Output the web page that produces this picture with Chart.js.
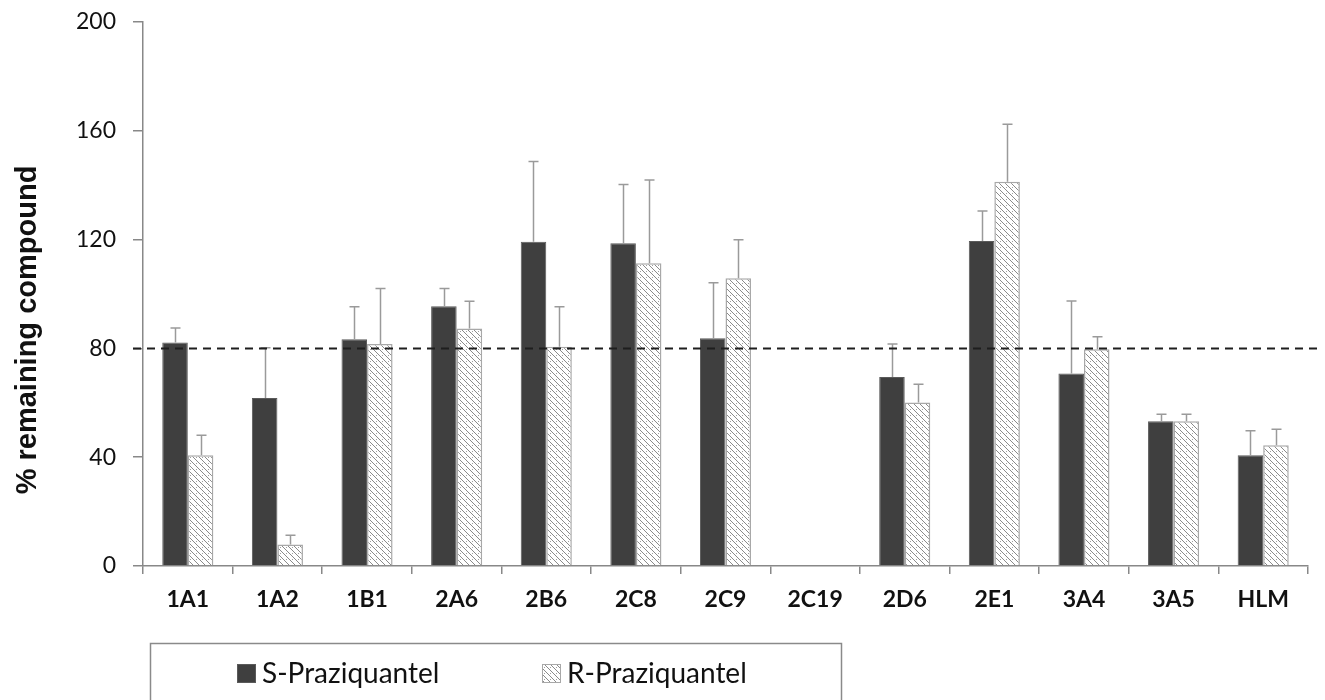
<!DOCTYPE html>
<html>
<head>
<meta charset="utf-8">
<script src="https://cdn.jsdelivr.net/npm/chart.js@4/dist/chart.umd.min.js"></script>
<style>
  html, body { margin: 0; padding: 0; background: #fff; }
  #wrap { width: 1325px; height: 700px; position: relative; }
</style>
</head>
<body>
<div id="wrap"><canvas id="c" width="1325" height="700"></canvas></div>
<script>
// CYP isoform / microsome categories
const isoforms = ['1A1', '1A2', '1B1', '2A6', '2B6', '2C8', '2C9', '2C19', '2D6', '2E1', '3A4', '3A5', 'HLM'];

// % remaining compound (mean) and upper standard deviation
const sPzqMean = [82.2, 61.8, 83.4, 95.5, 119.2, 118.7, 83.7, null, 69.5, 119.5, 70.8, 53.2, 40.7];
const sPzqSd   = [5.3, 18.4, 11.9, 6.5, 29.5, 21.6, 20.4, null, 12.1, 11.0, 26.6, 2.6, 9.0];
const rPzqMean = [40.7, 7.9, 81.6, 87.3, 80.6, 111.3, 105.8, null, 60.1, 141.3, 79.7, 53.2, 44.4];
const rPzqSd   = [7.4, 3.4, 20.4, 10.0, 14.7, 30.6, 14.1, null, 6.7, 21.1, 4.6, 2.6, 5.9];

const seriesNames = ['S-Praziquantel', 'R-Praziquantel'];
const yTickValues = [0, 40, 80, 120, 160, 200];
const thresholdValue = 80;
const yTitle = '% remaining compound';

// diagonal hatch with small dots for the R enantiomer
function makeHatch() {
  const c = document.createElement('canvas');
  c.width = 6; c.height = 6;
  const g = c.getContext('2d');
  g.fillStyle = '#ffffff';
  g.fillRect(0, 0, 6, 6);
  g.strokeStyle = '#8a8a8a';
  g.lineWidth = 1;
  g.beginPath();
  g.moveTo(-1, -1); g.lineTo(7, 7);
  g.moveTo(-1, 5); g.lineTo(1, 7);
  g.moveTo(5, -1); g.lineTo(7, 1);
  g.stroke();
  g.fillStyle = '#a0a0a0';
  g.fillRect(4, 1, 1, 1);
  return g.createPattern(c, 'repeat');
}
const hatch = makeHatch();
const darkFill = '#3f3f3f';

// upper error bars
const errorBars = {
  id: 'errorBars',
  afterDatasetsDraw(chart) {
    const ctx = chart.ctx;
    const ys = chart.scales.y;
    ctx.save();
    ctx.strokeStyle = '#9a9a9a';
    ctx.lineWidth = 1.5;
    chart.data.datasets.forEach((ds, i) => {
      const meta = chart.getDatasetMeta(i);
      meta.data.forEach((bar, j) => {
        const v = ds.data[j], e = ds.errors[j];
        if (v == null || e == null) return;
        const top = ys.getPixelForValue(v + e);
        const x = Math.round(bar.x) + 0.5;
        ctx.beginPath();
        ctx.moveTo(x, bar.y);
        ctx.lineTo(x, top);
        ctx.moveTo(x - 5, top);
        ctx.lineTo(x + 5, top);
        ctx.stroke();
      });
    });
    ctx.restore();
  }
};

// dashed 80 % reference line, axis title and boxed legend
const decorations = {
  id: 'decorations',
  afterDraw(chart) {
    const ctx = chart.ctx;
    const ys = chart.scales.y;
    const area = chart.chartArea;
    ctx.save();
    const yRef = Math.round(ys.getPixelForValue(thresholdValue)) + 0.5;
    ctx.strokeStyle = '#1e1e1e';
    ctx.lineWidth = 2;
    ctx.setLineDash([8, 6]);
    ctx.beginPath();
    ctx.moveTo(area.left - 10, yRef);
    ctx.lineTo(area.right + 10, yRef);
    ctx.stroke();
    ctx.setLineDash([]);

    // rotated axis title
    ctx.translate(28, 330);
    ctx.rotate(-Math.PI / 2);
    ctx.fillStyle = '#111';
    ctx.font = 'bold 29px "Liberation Sans", Arial, sans-serif';
    ctx.textAlign = 'center';
    ctx.textBaseline = 'middle';
    ctx.fillText(yTitle, 0, 0);
    ctx.setTransform(1, 0, 0, 1, 0, 0);

    // legend box
    ctx.strokeStyle = '#8a8a8a';
    ctx.lineWidth = 1.5;
    ctx.strokeRect(150.5, 643.5, 691, 70);
    const items = [
      { x: 237, tx: 262, fill: chart.data.datasets[0].backgroundColor, border: chart.data.datasets[0].borderColor },
      { x: 542, tx: 567, fill: chart.data.datasets[1].backgroundColor, border: chart.data.datasets[1].borderColor }
    ];
    ctx.font = '28px Lato, sans-serif';
    ctx.textAlign = 'left';
    ctx.textBaseline = 'middle';
    items.forEach((it, k) => {
      ctx.fillStyle = it.fill;
      ctx.fillRect(it.x, 664, 19, 19);
      ctx.strokeStyle = it.border;
      ctx.lineWidth = 1;
      ctx.strokeRect(it.x + 0.5, 664.5, 18, 18);
      ctx.fillStyle = '#111';
      ctx.fillText(chart.data.datasets[k].label, it.tx, 674);
    });
    ctx.restore();
  }
};

new Chart(document.getElementById('c'), {
  type: 'bar',
  data: {
    labels: isoforms,
    datasets: [
      {
        label: seriesNames[0],
        data: sPzqMean,
        errors: sPzqSd,
        backgroundColor: darkFill,
        borderColor: '#5a5a5a',
        borderWidth: 1
      },
      {
        label: seriesNames[1],
        data: rPzqMean,
        errors: rPzqSd,
        backgroundColor: hatch,
        borderColor: '#a8a8a8',
        borderWidth: 1.5
      }
    ]
  },
  options: {
    responsive: false,
    animation: false,
    layout: { padding: { top: 22, right: 17, left: 0, bottom: 0 } },
    plugins: {
      legend: { display: false },
      tooltip: { enabled: false }
    },
    datasets: {
      bar: { categoryPercentage: 0.57, barPercentage: 1.0 }
    },
    scales: {
      x: {
        offset: true,
        grid: {
          offset: true,
          drawOnChartArea: false,
          drawTicks: true,
          tickLength: 8,
          color: '#888',
          lineWidth: 1.5
        },
        border: { display: true, color: '#888', width: 1.5 },
        ticks: {
          color: '#111',
          padding: 12,
          font: { family: 'Lato', weight: 'bold', size: 23 }
        },
        afterFit(scale) {
          scale.height = 134;
          scale.paddingLeft = 0;
          scale.paddingRight = 0;
        }
      },
      y: {
        min: 0,
        max: 200,
        afterBuildTicks(scale) { scale.ticks = yTickValues.map(v => ({ value: v })); },
        grid: {
          drawOnChartArea: false,
          drawTicks: true,
          tickLength: 10,
          color: '#888',
          lineWidth: 1.5
        },
        border: { display: true, color: '#888', width: 1.5 },
        ticks: {
          color: '#111',
          padding: 17,
          font: { family: 'Lato', size: 23 }
        },
        afterFit(scale) {
          scale.width = 143;
          scale.paddingTop = 0;
          scale.paddingBottom = 0;
        }
      }
    }
  },
  plugins: [errorBars, decorations]
});
</script>
</body>
</html>
